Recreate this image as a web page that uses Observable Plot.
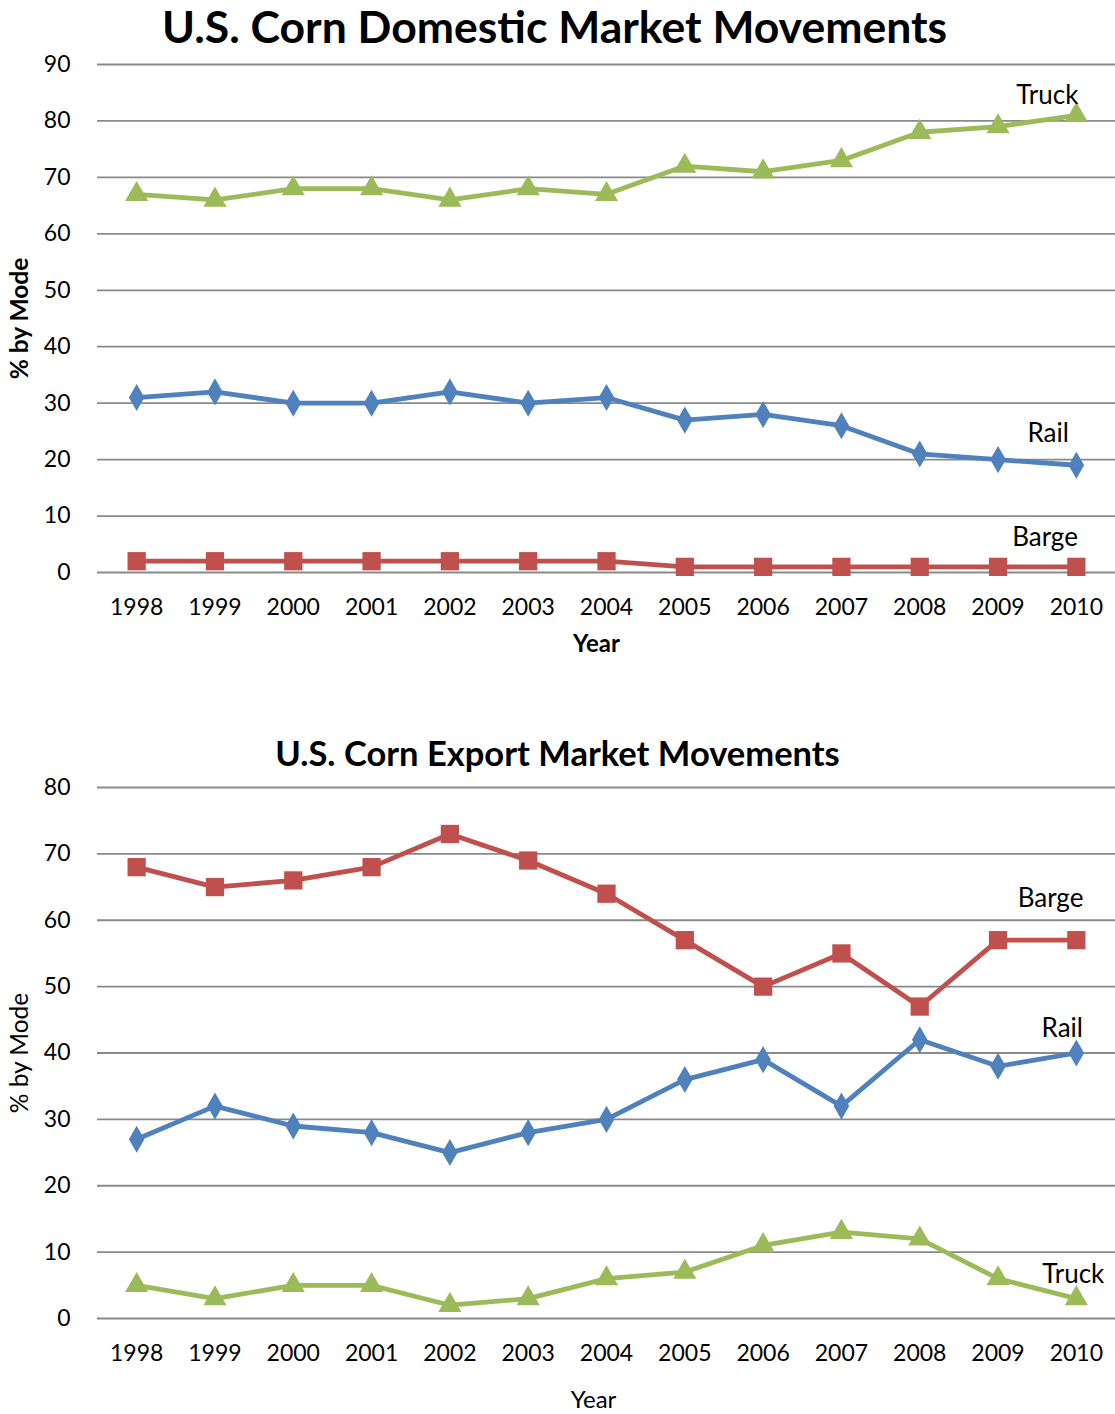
<!DOCTYPE html>
<html>
<head>
<meta charset="utf-8">
<script src="https://cdn.jsdelivr.net/npm/d3@7"></script>
<script src="https://cdn.jsdelivr.net/npm/@observablehq/plot@0.6"></script>
<style>
  html, body { margin: 0; padding: 0; background: #fff; }
  body { width: 1115px; height: 1414px; position: relative; overflow: hidden; font-family: Lato, "Open Sans", sans-serif; }
  .title { position: absolute; left: 0; width: 1115px; text-align: center; font-weight: bold; color: #000; white-space: nowrap; }
  .chart { position: absolute; left: 0; }
</style>
</head>
<body>
<div class="title" id="t1" style="top:1px;left:-3px;font-size:44.5px;line-height:50px;">U.S. Corn Domestic Market Movements</div>
<div class="chart" id="c1" style="top:50px;"></div>
<div class="title" id="t2" style="top:733px;font-size:34.5px;line-height:40px;">U.S. Corn Export Market Movements</div>
<div class="chart" id="c2" style="top:773px;"></div>
<script>
// ---- data ----
const years = [1998, 1999, 2000, 2001, 2002, 2003, 2004, 2005, 2006, 2007, 2008, 2009, 2010];

const domesticTruck = [67, 66, 68, 68, 66, 68, 67, 72, 71, 73, 78, 79, 81];
const domesticRail  = [31, 32, 30, 30, 32, 30, 31, 27, 28, 26, 21, 20, 19];
const domesticBarge = [2, 2, 2, 2, 2, 2, 2, 1, 1, 1, 1, 1, 1];

const exportBarge = [68, 65, 66, 68, 73, 69, 64, 57, 50, 55, 47, 57, 57];
const exportRail  = [27, 32, 29, 28, 25, 28, 30, 36, 39, 32, 42, 38, 40];
const exportTruck = [5, 3, 5, 5, 2, 3, 6, 7, 11, 13, 12, 6, 3];

const domesticTicks = [0, 10, 20, 30, 40, 50, 60, 70, 80, 90];
const exportTicks = [0, 10, 20, 30, 40, 50, 60, 70, 80];

// series label anchors (year, value)
const domesticLabels = [
  {mode: "Truck", year: 2009.63, value: 84.5},
  {mode: "Rail", year: 2009.64, value: 24.6},
  {mode: "Barge", year: 2009.6, value: 6.2}
];
const exportLabels = [
  {mode: "Barge", year: 2009.67, value: 63.3},
  {mode: "Rail", year: 2009.82, value: 43.7},
  {mode: "Truck", year: 2009.96, value: 6.6}
];

const modeStyle = {
  Truck: {color: "#9BBB59", symbol: "triangle", r: 8.6},
  Rail:  {color: "#4F81BD", symbol: "diamond", r: 8.2},
  Barge: {color: "#C0504D", symbol: "square", r: 10.3}
};

function toRows(seriesMap) {
  const rows = [];
  for (const [mode, vals] of Object.entries(seriesMap)) {
    vals.forEach((v, i) => rows.push({mode, year: years[i], value: v}));
  }
  return rows;
}

function makeChart({seriesMap, ticks, labels, height, marginBottom, yearDy, yearDx, boldAxisLabels}) {
  const rows = toRows(seriesMap);
  const marks = [
    Plot.ruleY(ticks, {stroke: "#8a8a8a", strokeWidth: 1.8})
  ];
  for (const mode of Object.keys(seriesMap)) {
    const st = modeStyle[mode];
    const data = rows.filter(d => d.mode === mode);
    marks.push(Plot.line(data, {x: "year", y: "value", stroke: st.color, strokeWidth: 4.8, strokeLinejoin: "round"}));
    marks.push(Plot.dot(data, {x: "year", y: "value", symbol: () => st.symbol, fill: st.color, stroke: "none", r: st.r}));
  }
  marks.push(Plot.text(labels, {x: "year", y: "value", text: "mode", fontSize: 26, fill: "#000"}));
  marks.push(Plot.text(["Year"], {frameAnchor: "bottom", textAnchor: "middle", lineAnchor: "middle", dy: yearDy, dx: yearDx, fontSize: 24,
    fontWeight: boldAxisLabels ? "bold" : "normal", fill: "#000"}));
  marks.push(Plot.text(["% by Mode"], {frameAnchor: "left", textAnchor: "middle", lineAnchor: "middle", dx: -77, rotate: -90, fontSize: 24.5,
    fontWeight: boldAxisLabels ? "bold" : "normal", fill: "#000"}));
  return Plot.plot({
    width: 1115,
    height,
    marginTop: 14,
    marginLeft: 97,
    marginRight: 0,
    marginBottom,
    style: {fontFamily: "Lato, 'Open Sans', sans-serif", fontSize: "23px", color: "#000", background: "transparent", overflow: "visible"},
    symbol: {type: "identity"},
    x: {domain: [1997.5, 2010.5], ticks: years, tickFormat: d => String(d), tickSize: 0, tickPadding: 26, label: null},
    y: {domain: [0, ticks[ticks.length - 1]], ticks: ticks, tickSize: 0, tickPadding: 27, label: null},
    marks
  });
}

document.getElementById("c1").appendChild(makeChart({
  seriesMap: {Truck: domesticTruck, Rail: domesticRail, Barge: domesticBarge},
  ticks: domesticTicks,
  labels: domesticLabels,
  height: 610,
  marginBottom: 88,
  yearDy: 72,
  yearDx: -10,
  boldAxisLabels: true
}));

document.getElementById("c2").appendChild(makeChart({
  seriesMap: {Barge: exportBarge, Rail: exportRail, Truck: exportTruck},
  ticks: exportTicks,
  labels: exportLabels,
  height: 640,
  marginBottom: 95,
  yearDy: 82,
  yearDx: -13,
  boldAxisLabels: false
}));
</script>
</body>
</html>
